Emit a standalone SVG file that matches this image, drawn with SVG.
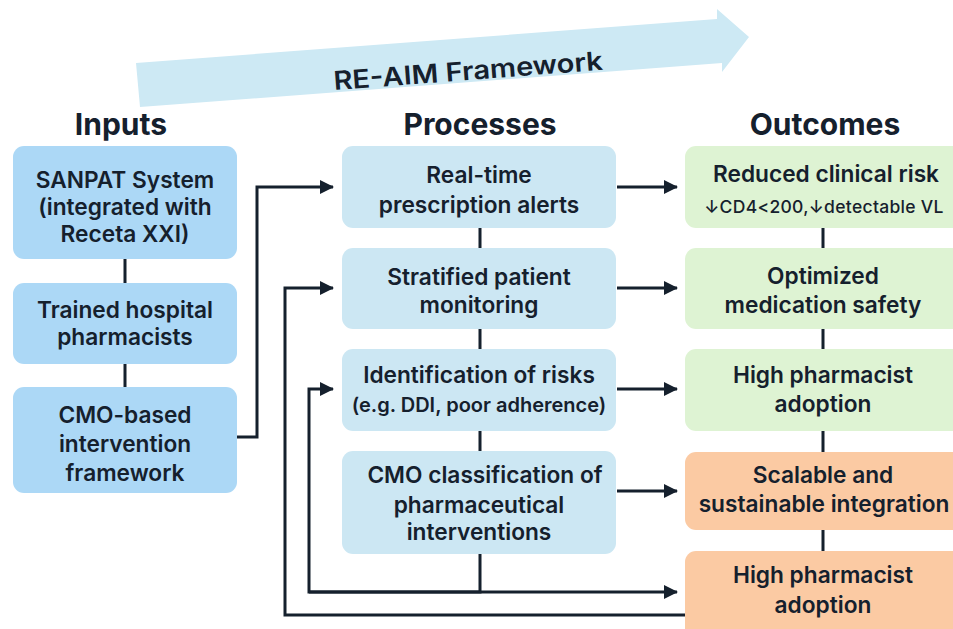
<svg xmlns="http://www.w3.org/2000/svg" width="953" height="629" viewBox="0 0 953 629">
  <style>
    .t { font-family: Inter, "Noto Sans", "Liberation Sans", sans-serif; fill: #15202d; text-anchor: middle; font-weight: 600; font-size: 22.7px; }
    .s { font-size: 20px; }
    .v { font-size: 17.5px; font-weight: 500; letter-spacing: 0.3px; }
    .h { font-family: Inter, "Noto Sans", "Liberation Sans", sans-serif; fill: #15202d; text-anchor: middle; font-weight: 700; font-size: 30px; }
    .b { font-size: 26px; font-weight: 600; }
    .in { fill: #acd8f6; }
    .pr { fill: #cce7f3; }
    .gr { fill: #def3d3; }
    .or { fill: #fbcaa3; }
    .ln { stroke: #15202d; stroke-width: 3; fill: none; }
    .ar { stroke: #15202d; stroke-width: 3; fill: none; marker-end: url(#head); }
  </style>
  <defs>
    <marker id="head" markerUnits="userSpaceOnUse" markerWidth="14" markerHeight="14" refX="13" refY="7" orient="auto">
      <path d="M0,0 L14,7 L0,14 z" fill="#15202d"/>
    </marker>
  </defs>
  <rect width="953" height="629" fill="#ffffff"/>

  <!-- RE-AIM banner arrow -->
  <g id="banner">
    <polygon points="136,63 717,19 717,9 749,37 722,72 722,63 140,107" fill="#cde9f4"/>
    <text class="h b" x="468" y="80" textLength="270" lengthAdjust="spacingAndGlyphs" transform="rotate(-4.3 468 70)">RE-AIM Framework</text>
  </g>

  <!-- column headings -->
  <text class="h" x="121" y="135">Inputs</text>
  <text class="h" x="480" y="135">Processes</text>
  <text class="h" x="825" y="135">Outcomes</text>

  <!-- connectors -->
  <g id="connectors">
    <path class="ln" d="M125,259 V283 M125,364 V387"/>
    <path class="ln" d="M480,228 V248 M480,329 V349 M480,431 V451"/>
    <path class="ln" d="M823,228 V248 M823,329 V349 M823,431 V452 M823,530 V551"/>
    <path class="ar" d="M237,437 H257 V187 H333"/>
    <path class="ar" d="M685,615 H285 V288 H333"/>
    <path class="ar" d="M480,554 V592 H309 V389 H333"/>
    <path class="ar" d="M309,592 H677"/>
    <path class="ar" d="M617,187 H677"/>
    <path class="ar" d="M617,288 H677"/>
    <path class="ar" d="M617,389 H677"/>
    <path class="ar" d="M617,491 H677"/>
  </g>

  <!-- Inputs -->
  <g id="in-sanpat">
    <rect class="in" x="13" y="146" width="224" height="113" rx="11"/>
    <text class="t" x="125" y="188">SANPAT System</text>
    <text class="t" x="125" y="215">(integrated with</text>
    <text class="t" x="125" y="242">Receta XXI)</text>
  </g>
  <g id="in-pharmacists">
    <rect class="in" x="13" y="283" width="224" height="81" rx="11"/>
    <text class="t" x="125" y="318">Trained hospital</text>
    <text class="t" x="125" y="345">pharmacists</text>
  </g>
  <g id="in-cmo">
    <rect class="in" x="13" y="387" width="224" height="106" rx="11"/>
    <text class="t" x="125" y="423">CMO-based</text>
    <text class="t" x="125" y="452">intervention</text>
    <text class="t" x="125" y="481">framework</text>
  </g>

  <!-- Processes -->
  <g id="pr-alerts">
    <rect class="pr" x="342" y="146" width="274" height="82" rx="11"/>
    <text class="t" x="479" y="183">Real-time</text>
    <text class="t" x="479" y="213">prescription alerts</text>
  </g>
  <g id="pr-monitoring">
    <rect class="pr" x="342" y="248" width="274" height="81" rx="11"/>
    <text class="t" x="479" y="285">Stratified patient</text>
    <text class="t" x="479" y="313">monitoring</text>
  </g>
  <g id="pr-risks">
    <rect class="pr" x="342" y="349" width="274" height="82" rx="11"/>
    <text class="t" x="479" y="383">Identification of risks</text>
    <text class="t s" x="479" y="412">(e.g. DDI, poor adherence)</text>
  </g>
  <g id="pr-classification">
    <rect class="pr" x="342" y="451" width="274" height="103" rx="11"/>
    <text class="t" x="485" y="483">CMO classification of</text>
    <text class="t" x="479" y="513">pharmaceutical</text>
    <text class="t" x="479" y="540">interventions</text>
  </g>

  <!-- Outcomes -->
  <g id="out-risk">
    <rect class="gr" x="685" y="146" width="285" height="82" rx="11"/>
    <text class="t" x="826" y="182">Reduced clinical risk</text>
    <text class="t v" x="824" y="213">↓CD4&lt;200,↓detectable VL</text>
  </g>
  <g id="out-safety">
    <rect class="gr" x="685" y="248" width="285" height="81" rx="11"/>
    <text class="t" x="823" y="284">Optimized</text>
    <text class="t" x="823" y="313">medication safety</text>
  </g>
  <g id="out-adoption">
    <rect class="gr" x="685" y="349" width="285" height="82" rx="11"/>
    <text class="t" x="823" y="383">High pharmacist</text>
    <text class="t" x="823" y="412">adoption</text>
  </g>
  <g id="out-integration">
    <rect class="or" x="685" y="452" width="285" height="78" rx="11"/>
    <text class="t" x="823" y="483">Scalable and</text>
    <text class="t" x="824" y="512">sustainable integration</text>
  </g>
  <g id="out-adoption-2">
    <rect class="or" x="685" y="551" width="285" height="100" rx="11"/>
    <text class="t" x="823" y="583">High pharmacist</text>
    <text class="t" x="823" y="613">adoption</text>
  </g>
</svg>
